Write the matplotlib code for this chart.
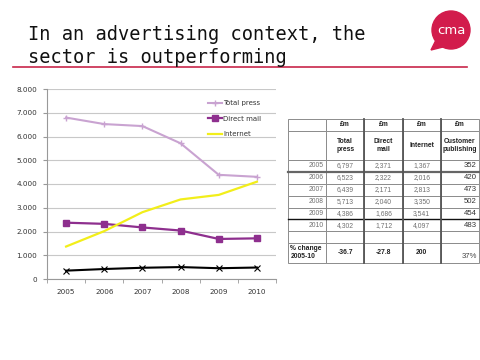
import matplotlib
matplotlib.use("Agg")
import matplotlib.pyplot as plt
from matplotlib.patches import Circle, Polygon

# data
years = [2005, 2006, 2007, 2008, 2009, 2010]
total_press = [6797, 6523, 6439, 5713, 4386, 4302]
direct_mail = [2371, 2322, 2171, 2040, 1686, 1712]
internet = [1367, 2016, 2813, 3350, 3541, 4097]
customer_pub = [352, 420, 473, 502, 454, 483]
pct_change = ["-36.7", "-27.8", "200", "37%"]
col_heads = ["Total\npress", "Direct\nmail", "Internet", "Customer\npublishing"]
y_ticks = [0, 1000, 2000, 3000, 4000, 5000, 6000, 7000, 8000]
y_labels = ["0", "1.000", "2.000", "3.000", "4.000", "5.000", "6.000", "7.000", "8.000"]

fig = plt.figure(figsize=(4.8, 3.6), dpi=100)
fig.patch.set_facecolor("white")

# ---- title, red rule and logo (pixel coords overlay)
deco = fig.add_axes([0, 0, 1, 1], zorder=-1)
deco.set_xlim(0, 480)
deco.set_ylim(360, 0)
deco.axis("off")
deco.text(28, 40, "In an advertising context, the", family="DejaVu Sans Mono",
          fontsize=13.4, va="baseline", ha="left", color="#111111")
deco.text(28, 63, "sector is outperforming", family="DejaVu Sans Mono",
          fontsize=13.4, va="baseline", ha="left", color="#111111")
deco.plot([13, 467], [67, 67], color="#c8264a", lw=1.2)
red = "#d21c4c"
deco.add_patch(Polygon([[437, 38], [431, 50], [447, 46]], closed=True, color=red))
deco.add_patch(Circle((451, 30), 19, color=red))
deco.text(451, 31, "cma", color="white", fontsize=9.5, ha="center", va="center",
          family="DejaVu Sans")

# ---- line chart
ax = fig.add_axes([47 / 480, 1 - 279 / 360, 229 / 480, 190 / 360])
x = list(range(len(years)))
ax.plot(x, total_press, color="#c9a3d1", lw=1.5, marker="+", ms=4, mew=1,
        label="Total press", zorder=3)
ax.plot(x, direct_mail, color="#8e2f8e", lw=1.6, marker="s", ms=4.5,
        label="Direct mail", zorder=3)
ax.plot(x, internet, color="#f2ee1a", lw=1.6, label="Internet", zorder=3)
ax.plot(x, customer_pub, color="black", lw=1.5, marker="x", ms=4, mew=0.8,
        zorder=3)

ax.set_xlim(-0.5, len(years) - 0.5)
ax.set_ylim(0, 8000)
ax.set_yticks(y_ticks)
ax.set_yticklabels(y_labels)
ax.set_xticks(x)
ax.set_xticklabels([str(y) for y in years])
ax.set_xticks([i - 0.5 for i in range(len(years) + 1)], minor=True)
ax.tick_params(axis="x", which="major", length=0, pad=7, labelsize=5.2, labelcolor="#333333")
ax.tick_params(axis="x", which="minor", length=3, color="#999999", direction="out")
ax.tick_params(axis="y", length=3, color="#999999", labelsize=5.2, labelcolor="#333333", pad=4)
ax.grid(axis="y", color="#c8c8c8", lw=0.8)
ax.set_axisbelow(True)
for s in ["top", "right"]:
    ax.spines[s].set_visible(False)
for s in ["left", "bottom"]:
    ax.spines[s].set_color("#999999")
    ax.spines[s].set_linewidth(0.8)

leg = ax.legend(loc="upper left", bbox_to_anchor=(0.69, 0.958), frameon=False,
                fontsize=5, handlelength=1.9, handletextpad=0.2, labelspacing=1.35,
                borderpad=0)
for t in leg.get_texts():
    t.set_color("#333333")

# ---- table
tax = fig.add_axes([288 / 480, 1 - 263 / 360, 191 / 480, 144 / 360])
tax.axis("off")

rows = [[""] + ["£m"] * 4, [""] + col_heads]
for i, yr in enumerate(years):
    rows.append([str(yr), f"{total_press[i]:,}", f"{direct_mail[i]:,}",
                 f"{internet[i]:,}", str(customer_pub[i])])
rows.append([""] * 5)
rows.append(["% change\n2005-10"] + pct_change[:3] + ["\n" + pct_change[3]])
row_h = [11.7, 29, 12, 12, 12, 11.7, 11.7, 11.7, 11.7, 20]

tbl = tax.table(cellText=rows, cellLoc="center", bbox=[0, 0, 1, 1])
tbl.auto_set_font_size(False)
for (r, c), cell in tbl.get_celld().items():
    cell.set_height(row_h[r])
    cell.set_width(1)
    cell.set_edgecolor("#8c8c8c")
    cell.set_linewidth(0.7)
    cell.PAD = 0.06
    txt = cell.get_text()
    txt.set_family("Liberation Sans")
    txt.set_fontsize(4.9)
    if r <= 1:
        txt.set_fontweight("bold")
        txt.set_color("#222222")
    elif r == 9:
        txt.set_fontweight("bold")
        txt.set_color("#222222")
        if c == 0:
            txt.set_ha("left")
        if c == 4:
            txt.set_ha("right")
            txt.set_fontweight("normal")
            txt.set_fontsize(5.6)
            txt.set_color("#444444")
    else:
        txt.set_color("#707070")
        if c == 0:
            txt.set_ha("right")
        if c == 4:
            txt.set_ha("right")
            txt.set_fontsize(5.6)
            txt.set_color("#333333")

fig.canvas.draw()
# heavier rules
c2 = tbl[(2, 0)]
tax.plot([0, 1], [c2.get_y(), c2.get_y()], color="#666666", lw=1.6,
         transform=tax.transAxes, clip_on=False)
c6 = tbl[(6, 0)]
tax.plot([0, 1], [c6.get_y(), c6.get_y()], color="#111111", lw=1.0,
         transform=tax.transAxes, clip_on=False)
for c in (2, 3, 4):
    cc = tbl[(0, c)]
    tax.plot([cc.get_x(), cc.get_x()], [0, 1], color="#555555", lw=1.3,
             transform=tax.transAxes, clip_on=False)

fig.savefig("out.png", dpi=100)
